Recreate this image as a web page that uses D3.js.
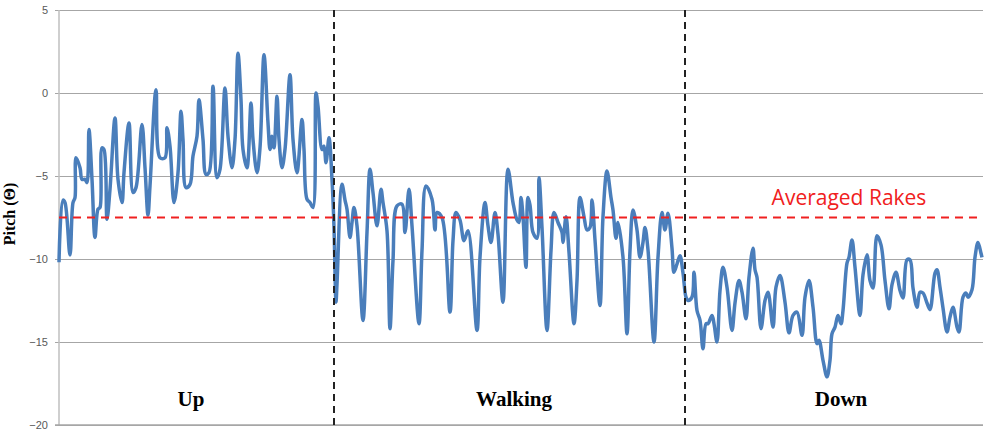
<!DOCTYPE html>
<html>
<head>
<meta charset="utf-8">
<script src="https://cdn.jsdelivr.net/npm/d3@7"></script>
<style>
  body { margin: 0; background: #fff; }
  svg { display: block; }
</style>
</head>
<body>
<script>
// pitch trace, sample index vs pitch in degrees
var samples = [0,4,6,11,14,16,17,21,23,26,28,30,33,36,39,41,43,45,48,51,56,59,63,65,70,74,77,83,86,89,91,97,101,106,108,111,115,119,122,124,127,131,134,138,140,144,147,150,154,158,161,166,169,173,176,179,182,184,188,192,194,198,201,205,209,211,213,215,218,220,223,226,231,234,238,243,245,248,251,254,257,259,263,265,267,270,273,275,277,
  278,283,286,288,291,293,295,298,304,308,311,314,318,322,324,328,331,334,338,343,346,350,353,360,363,367,373,376,378,383,391,394,397,401,405,409,418,421,426,429,432,436,439,444,449,454,458,460,462,464,467,469,471,474,478,480,483,488,492,495,499,503,504,507,510,515,518,521,525,528,531,533,536,541,544,548,552,554,557,559,564,568,571,574,578,581,584,586,589,595,599,603,606,609,613,615,618,621,624,
  627,629,633,635,638,641,644,647,649,653,655,658,661,664,668,673,676,680,683,687,690,694,696,698,702,706,709,714,717,721,726,730,734,738,743,746,750,754,758,760,764,768,771,773,776,779,782,784,788,790,793,796,801,804,808,811,814,818,822,826,830,833,837,841,844,848,851,854,858,861,864,868,871,876,878,881,884,888,891,894,898,900,904,907,909,913,916,919,922,923];

var pitch = [-10.2,-6.45,-6.6,-9.76,-6.6,-6.3,-3.9,-4.5,-5.2,-5.2,-5.4,-2.2,-5.2,-8.7,-7.0,-6.9,-3.3,-3.4,-7.6,-5.8,-1.5,-5.2,-6.6,-4.8,-1.8,-6.0,-5.7,-1.9,-4.5,-7.35,-5.6,0.2,-3.9,-3.9,-2.1,-3.2,-6.6,-4.8,-1.1,-2.8,-5.7,-5.5,-3.8,-2.6,-0.4,-2.8,-4.9,-4.8,0.4,-5.1,-4.6,0.3,-2.6,-4.5,-2.8,2.4,-0.4,-3.4,-4.5,-0.6,-2.8,-4.8,-3.3,2.3,-1.8,-3.4,-2.6,-3.3,-0.2,-2.8,-4.5,-3.4,1.1,-2.8,-4.8,-1.6,-3.4,-6.4,-6.6,-6.9,0.0,-0.8,-3.4,-3.2,-4.2,-2.7,-5.2,-8.1,-12.6,
  -11.5,-5.5,-6.45,-7.0,-8.7,-7.8,-6.9,-8.0,-13.7,-8.4,-4.6,-6.0,-8.0,-5.8,-6.6,-8.3,-14.2,-10.1,-6.8,-6.7,-8.4,-5.8,-8.0,-13.9,-9.5,-5.6,-6.4,-8.25,-7.2,-7.5,-13.2,-8.9,-7.2,-7.65,-8.9,-8.3,-14.3,-9.9,-6.6,-8.0,-9.0,-7.2,-8.5,-12.6,-4.6,-6.6,-7.65,-7.8,-6.3,-7.45,-10.5,-6.3,-6.75,-8.4,-8.75,-5.1,-8.1,-14.3,-9.5,-7.2,-7.8,-8.4,-9.0,-7.45,-9.6,-13.9,-11.3,-6.3,-7.45,-8.25,-8.1,-6.45,-8.85,-12.8,-7.45,-4.7,-6.3,-7.05,-8.75,-7.8,-9.9,-14.5,-9.5,-7.05,-8.25,-9.9,-9.0,-8.1,-9.45,-15.0,-9.9,-7.2,-8.25,-7.25,-9.35,-10.8,-10.3,-9.8,-10.85,
  -12.3,-12.5,-12.3,-10.8,-13.1,-13.7,-15.4,-13.9,-13.9,-13.4,-13.9,-15.0,-11.9,-10.5,-11.7,-14.3,-12.65,-11.3,-12.0,-13.6,-11.1,-9.35,-10.65,-11.1,-14.2,-12.5,-12.0,-14.1,-11.7,-11.0,-12.6,-14.45,-13.4,-13.2,-14.6,-12.3,-11.3,-12.9,-15.1,-14.9,-16.1,-17.1,-16.1,-14.5,-14.1,-13.4,-13.9,-13.1,-10.25,-9.9,-8.85,-10.5,-13.4,-10.95,-9.75,-11.3,-11.75,-8.6,-9.15,-11.3,-13.0,-11.55,-10.8,-11.9,-12.35,-10.05,-10.05,-11.75,-12.9,-12.0,-12.05,-12.65,-13.05,-10.85,-10.65,-11.7,-12.95,-14.4,-13.5,-12.9,-14.1,-14.4,-12.3,-12.05,-12.3,-11.85,-9.9,-9.0,-9.65,-9.9];

var yTicks = [5, 0, -5, -10, -15, -20];
var phaseNames = ["Up", "Walking", "Down"];
var phaseLabelAt = [132, 455, 782];
var phaseBreaks = [275, 626];
var averagedRake = -7.5;
var averageLabel = "Averaged Rakes";

var width = 988;
var height = 431;
var margin = {top: 10, right: 5, bottom: 6, left: 59};

var svg = d3.select("body").append("svg")
    .attr("width", width)
    .attr("height", height);

var x = d3.scaleLinear()
    .domain([0, 924])
    .range([margin.left, width - margin.right]);

var y = d3.scaleLinear()
    .domain([-20, 5])
    .range([height - margin.bottom, margin.top]);

//gridlines and tick labels
var yAxis = d3.axisLeft(y)
    .tickValues(yTicks)
    .tickSize(-(width - margin.right - margin.left))
    .tickSizeOuter(0)
    .tickPadding(11);

var gy = svg.append("g")
    .attr("transform", "translate(" + margin.left + ",0)")
    .call(yAxis);
gy.select(".domain").remove();
gy.selectAll(".tick line")
    .attr("x1", -4)
    .attr("stroke", "#a6a6a6")
    .attr("stroke-width", 1);
gy.selectAll(".tick text")
    .attr("fill", "#595959")
    .style("font-family", "'Liberation Sans', Arial, sans-serif")
    .style("font-size", "11px");

//vertical axis line
svg.append("line")
    .attr("x1", x(0)).attr("x2", x(0))
    .attr("y1", y(5)).attr("y2", y(-20))
    .attr("stroke", "#bfbfbf")
    .attr("stroke-width", 1.5);

//bottom axis line
svg.append("line")
    .attr("x1", x(0) - 4).attr("x2", width - margin.right)
    .attr("y1", y(-20)).attr("y2", y(-20))
    .attr("stroke", "#a6a6a6")
    .attr("stroke-width", 1.5);

//pitch line
var line = d3.line()
    .x(function(d, i) { return x(samples[i]); })
    .y(function(d) { return y(d); })
    .curve(d3.curveCatmullRom.alpha(0.5));

svg.append("path")
    .datum(pitch)
    .attr("d", line)
    .attr("fill", "none")
    .attr("stroke", "#4a7ebb")
    .attr("stroke-width", 3.5)
    .attr("stroke-linejoin", "round");

//average line
svg.append("line")
    .attr("x1", x(0)).attr("x2", width - margin.right)
    .attr("y1", y(averagedRake)).attr("y2", y(averagedRake))
    .attr("stroke", "#f02020")
    .attr("stroke-width", 2)
    .attr("stroke-dasharray", "8,6");

svg.append("text")
    .attr("x", 849)
    .attr("y", y(averagedRake) - 13)
    .attr("text-anchor", "middle")
    .attr("fill", "#f02020")
    .style("font-family", "'Open Sans', sans-serif")
    .style("font-size", "21px")
    .text(averageLabel);

//phase dividers
svg.selectAll(".divider")
    .data(phaseBreaks)
    .enter().append("line")
    .attr("class", "divider")
    .attr("x1", function(d) { return x(d); })
    .attr("x2", function(d) { return x(d); })
    .attr("y1", y(5))
    .attr("y2", y(-20))
    .attr("stroke", "#222")
    .attr("stroke-width", 2)
    .attr("stroke-dasharray", "7,5");

svg.selectAll(".phase")
    .data(phaseNames)
    .enter().append("text")
    .attr("class", "phase")
    .attr("x", function(d, i) { return x(phaseLabelAt[i]); })
    .attr("y", y(-18.85))
    .attr("text-anchor", "middle")
    .style("font-family", "'Liberation Serif', 'Times New Roman', serif")
    .style("font-weight", "bold")
    .style("font-size", "21px")
    .text(function(d) { return d; });

//y label
svg.append("text")
    .attr("transform", "translate(15," + 214 + ") rotate(-90)")
    .attr("text-anchor", "middle")
    .style("font-family", "'Liberation Serif', 'Times New Roman', serif")
    .style("font-weight", "bold")
    .style("font-size", "16px")
    .text("Pitch (\u0398)");
</script>
</body>
</html>
